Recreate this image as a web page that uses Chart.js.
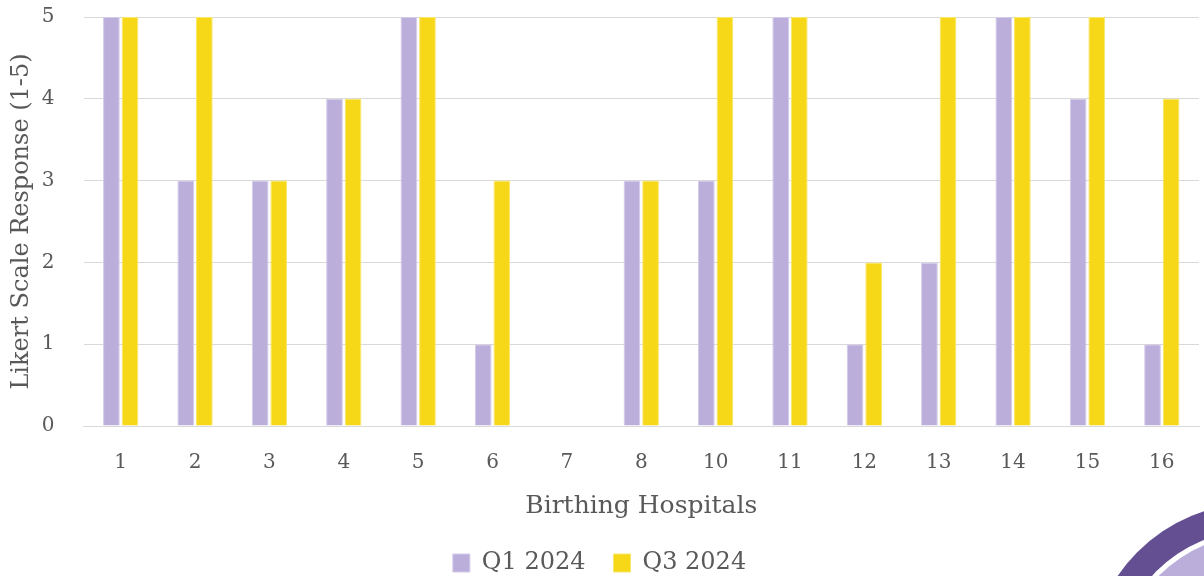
<!DOCTYPE html>
<html>
<head>
<meta charset="utf-8">
<script src="https://cdn.jsdelivr.net/npm/chart.js@4"></script>
<style>
html,body{margin:0;padding:0;background:#fff;overflow:hidden}
#wrap{position:relative;width:1204px;height:576px}
#deco{position:absolute;left:1088px;top:503px;width:336px;height:336px;border-radius:50%;background:#634f91}
#deco2{position:absolute;left:1115px;top:530px;width:282px;height:282px;border-radius:50%;background:#fff}
#deco3{position:absolute;left:1120px;top:535px;width:272px;height:272px;border-radius:50%;background:#bcaedb}
</style>
</head>
<body>
<div id="wrap">
<canvas id="chart" width="1204" height="576"></canvas>
<div id="deco"></div>
<div id="deco2"></div>
<div id="deco3"></div>
</div>
<script>
const hospitals = ["1","2","3","4","5","6","7","8","10","11","12","13","14","15","16"]
const q1 = [5,3,3,4,5,1,null,3,3,5,1,2,5,4,1]
const q3 = [5,5,3,4,5,3,null,3,5,5,2,5,5,5,4]
const yTicks = [0,1,2,3,4,5]

const font = "'DejaVu Serif', serif"
const gray = "#595959"

new Chart(document.getElementById("chart"),{

type:"bar",

data:{
labels:hospitals,
datasets:[
{
label:"Q1 2024",
data:q1,
backgroundColor:"#bcaedb",
borderColor:"#d4cae9",
borderWidth:1,
categoryPercentage:0.5,
barPercentage:0.9
},
{
label:"Q3 2024",
data:q3,
backgroundColor:"#f6d819",
borderColor:"#f9e66a",
borderWidth:1,
categoryPercentage:0.5,
barPercentage:0.9
}
]
},

options:{
responsive:false,
animation:false,
layout:{padding:{top:0,right:5,left:0,bottom:-9}},
plugins:{
tooltip:{enabled:false},
legend:{
position:"bottom",
labels:{
font:{family:font,size:24},
color:gray,
boxWidth:17,
boxHeight:18,
padding:28,
useBorderRadius:false
}
}
},
scales:{
x:{
grid:{display:false},
border:{color:"#d9d9d9",width:1},
ticks:{font:{family:font,size:20,lineHeight:1.05},color:gray,padding:18},
title:{display:true,text:"Birthing Hospitals",font:{family:font,size:25},color:gray,padding:{top:0,bottom:2}}
},
y:{
min:yTicks[0],
max:yTicks[yTicks.length-1],
grid:{color:"#d9d9d9",lineWidth:1,drawTicks:true,tickLength:24,tickColor:"rgba(0,0,0,0)"},
border:{display:false},
ticks:{stepSize:yTicks[1]-yTicks[0],font:{family:font,size:20},color:gray,padding:5},
title:{display:true,text:"Likert Scale Response (1-5)",font:{family:font,size:24},color:gray,padding:{top:7,bottom:1}}
}
}
}

})
</script>
</body>
</html>
